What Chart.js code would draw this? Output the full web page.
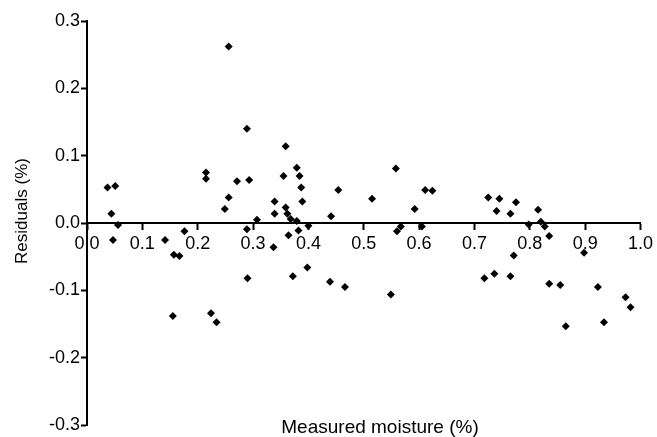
<!DOCTYPE html>
<html lang="en">
	<head>
		<meta charset="UTF-8" />
		<script src="https://cdn.jsdelivr.net/npm/chart.js@4/dist/chart.umd.min.js"></script>
		<title>Residuals</title>
		<style>
			html, body { margin: 0; padding: 0; background: #fff; }
			#wrap { width: 657px; height: 437px; }
		</style>
	</head>
	<body>
		<div id="wrap"><canvas id="residChart" width="657" height="437"></canvas></div>
	<script>
		// measured moisture (%) and residuals (%)
		let moisture = [
			0.037, 0.051, 0.044, 0.056, 0.047, 0.141, 0.176, 0.157, 0.167, 0.155,
			0.215, 0.215, 0.224, 0.234, 0.249, 0.256, 0.271, 0.293, 0.289, 0.290,
			0.307, 0.256, 0.289, 0.359, 0.379, 0.355, 0.384, 0.387, 0.454, 0.515,
			0.339, 0.389, 0.359, 0.339, 0.362, 0.368, 0.379, 0.441, 0.400, 0.364,
			0.382, 0.337, 0.398, 0.372, 0.439, 0.558, 0.611, 0.624, 0.592, 0.567,
			0.560, 0.605, 0.466, 0.549, 0.725, 0.745, 0.775, 0.740, 0.765, 0.815,
			0.798, 0.820, 0.827, 0.835, 0.771, 0.898, 0.718, 0.736, 0.765, 0.835,
			0.855, 0.923, 0.973, 0.982, 0.865, 0.934
		];
		let residuals = [
			0.053, 0.055, 0.014, -0.003, -0.025, -0.025, -0.012, -0.047, -0.049, -0.138,
			0.075, 0.066, -0.134, -0.147, 0.021, 0.038, 0.062, 0.064, -0.009, -0.082,
			0.005, 0.262, 0.140, 0.114, 0.082, 0.070, 0.070, 0.053, 0.049, 0.036,
			0.032, 0.032, 0.023, 0.014, 0.014, 0.006, 0.003, 0.010, -0.004, -0.018,
			-0.011, -0.036, -0.066, -0.079, -0.087, 0.081, 0.049, 0.048, 0.021, -0.005,
			-0.012, -0.005, -0.095, -0.106, 0.038, 0.036, 0.031, 0.018, 0.014, 0.020,
			-0.002, 0.002, -0.005, -0.019, -0.048, -0.044, -0.082, -0.075, -0.079, -0.090,
			-0.092, -0.095, -0.110, -0.125, -0.153, -0.147
		];
		let xTicks = [0, 0.1, 0.2, 0.3, 0.4, 0.5, 0.6, 0.7, 0.8, 0.9, 1.0];
		let yTicks = [-0.3, -0.2, -0.1, 0, 0.1, 0.2, 0.3];
		let xTitle = 'Measured moisture (%)';
		let yTitle = 'Residuals (%)';

		let points = moisture.map((m, i) => ({ x: m, y: residuals[i] }));

		// axis titles sit in odd places in the original, so draw them by hand
		let titlePlugin = {
			id: 'titles',
			afterDraw(chart) {
				let ctx = chart.ctx;
				ctx.save();
				ctx.fillStyle = '#000';
				ctx.font = '19px "Liberation Sans", Arial, sans-serif';
				ctx.textAlign = 'center';
				ctx.textBaseline = 'alphabetic';
				ctx.fillText(xTitle, 380, 433);
				ctx.translate(22, 211);
				ctx.rotate(-Math.PI / 2);
				ctx.font = '17px "Liberation Sans", Arial, sans-serif';
				ctx.textBaseline = 'middle';
				ctx.fillText(yTitle, 0, 0);
				ctx.restore();
			},
		};

		let residChart = new Chart(document.getElementById('residChart').getContext('2d'), {
			type: 'scatter',
			data: {
				datasets: [
					{
						data: points,
						pointStyle: 'rectRot',
						pointRadius: 4,
						backgroundColor: '#000',
						borderWidth: 0,
					},
				],
			},
			options: {
				responsive: false,
				animation: false,
				layout: { padding: { top: 21, right: 15, bottom: 9, left: 0 } },
				plugins: {
					legend: { display: false },
					tooltip: { enabled: false },
				},
				scales: {
					x: {
						type: 'linear',
						position: { y: 0 },
						min: 0,
						max: 1,
						z: 1,
						afterBuildTicks: (s) => { s.ticks = xTicks.map((v) => ({ value: v })); },
						border: { display: true, color: '#000', width: 2 },
						grid: { drawOnChartArea: false, drawTicks: true, tickLength: 6, color: '#000', tickWidth: 2 },
						ticks: {
							color: '#000',
							padding: 4,
							font: { family: '"Liberation Sans", Arial, sans-serif', size: 18 },
							callback: (v) => v.toFixed(1),
							showLabelBackdrop: true,
							backdropColor: '#fff',
							backdropPadding: 1,
							maxRotation: 0,
						},
					},
					y: {
						type: 'linear',
						position: 'left',
						min: -0.3,
						max: 0.3,
						afterBuildTicks: (s) => { s.ticks = yTicks.map((v) => ({ value: v })); },
						afterFit: (s) => { s.width = 87; },
						border: { display: true, color: '#000', width: 2 },
						grid: { drawOnChartArea: false, drawTicks: true, tickLength: 6, color: '#000', tickWidth: 2 },
						ticks: {
							color: '#000',
							padding: 1,
							font: { family: '"Liberation Sans", Arial, sans-serif', size: 18 },
							callback: (v) => v.toFixed(1),
						},
					},
				},
			},
			plugins: [titlePlugin],
		});
	</script>
	</body>
</html>
